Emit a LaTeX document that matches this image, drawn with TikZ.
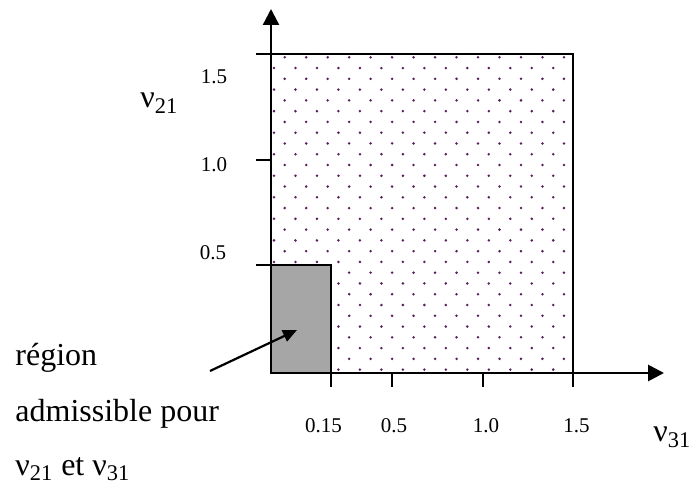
\documentclass[tikz,border=0pt]{standalone}
\usepackage{fontspec}
\setmainfont{Liberation Serif}
\usetikzlibrary{arrows.meta, positioning}
\definecolor{dotpurple}{HTML}{5A1F5A}
\definecolor{regiongray}{HTML}{A6A6A6}
\tikzset{
    axis/.style={line width=1.15pt, -{Triangle[length=8pt, width=8pt]}},
    tickmark/.style={line width=0.75pt},
    ticklab/.style={font=\fontsize{10.5}{12}\selectfont, inner sep=0pt},
    axislab/.style={font=\fontsize{16}{19}\selectfont, inner sep=0pt, anchor=base west},
    note/.style={font=\fontsize{16}{19}\selectfont, inner sep=0pt, anchor=base west}
}

\begin{document}
\begin{tikzpicture}[x=0.5pt, y=-0.5pt]
    \useasboundingbox (0,0) rectangle (690,485);

    \coordinate (origin) at (271,373);
    \coordinate (ytip)   at (271,9);
    \coordinate (xtip)   at (664,373);

    % dotted region
    \foreach \r in {0,...,29} {
        \pgfmathsetmacro{\yy}{57.3+10.77*\r}
        \pgfmathsetmacro{\xo}{mod(\r,2)==0 ? 284.7 : 274}
        \foreach \c in {0,...,13} {
            \pgfmathsetmacro{\xx}{\xo+21.48*\c}
            \ifdim \xx pt < 570pt
                \fill[dotpurple] (\xx,\yy) circle[radius=0.7pt];
            \fi
        }
    }
    \draw[line width=0.9pt] (271,54) rectangle (573,373);

    % admissible region
    \fill[regiongray] (271,265) rectangle (331,373);
    \draw[line width=0.7pt] (271,265) rectangle (331,373);

    % axes
    \draw[axis] (origin) -- (ytip);
    \draw[axis, line width=1.4pt] (origin) -- (xtip);

    % ticks
    \foreach \y in {54,160,265}
        \draw[tickmark] (256,\y) -- (271,\y);
    \foreach \x in {331,392,483,573}
        \draw[tickmark] (\x,373) -- (\x,387);

    \node (y15) [ticklab] at (214,77)  {1.5};
    \node (y10) [ticklab] at (214,165) {1.0};
    \node (y05) [ticklab] at (213,253) {0.5};

    \node (x015) [ticklab] at (323.5,426) {0.15};
    \node (x05)  [ticklab] at (394,426)   {0.5};
    \node (x10)  [ticklab] at (486,426)   {1.0};
    \node (x15)  [ticklab] at (576.5,426) {1.5};

    \node (nu21) [axislab] at (140,108) {ν\textsubscript{21}};
    \node (nu31) [axislab] at (653,442) {ν\textsubscript{31}};

    \node (region) [note] at (15,366) {région};
    \node (admis)  [note] at (15,422) {admissible pour};
    \node (pour)   [note] at (15,475) {ν\textsubscript{21} et ν\textsubscript{31}};

    \coordinate (tail) at (210,371);
    \coordinate (head) at (297,330);
    \draw[line width=1.1pt, -{Triangle[length=7pt, width=6pt]}] (tail) -- (head);
\end{tikzpicture}
\end{document}
